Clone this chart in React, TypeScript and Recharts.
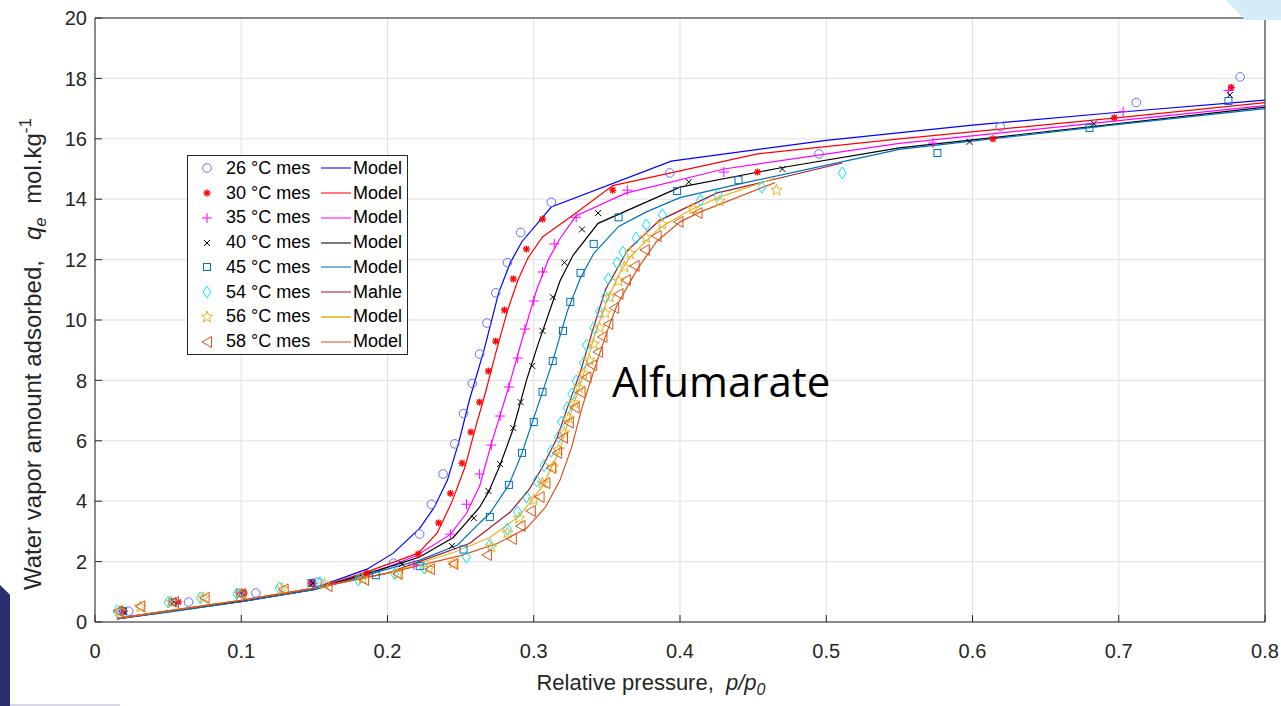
import React from 'react';
import { ComposedChart, Scatter, Line, XAxis, YAxis, CartesianGrid } from 'recharts';

const xTicks = [0, 0.1, 0.2, 0.3, 0.4, 0.5, 0.6, 0.7, 0.8];
const yTicks = [0, 2, 4, 6, 8, 10, 12, 14, 16, 18, 20];

// measured points [p/p0, qe]
const mes26 = [[0.023,0.36],[0.064,0.66],[0.110,0.96],[0.152,1.32],[0.204,1.95],[0.222,2.91],[0.230,3.9],[0.238,4.9],[0.246,5.9],[0.252,6.9],[0.258,7.9],[0.263,8.87],[0.268,9.9],[0.274,10.9],[0.282,11.9],[0.291,12.9],[0.312,13.9],[0.393,14.87],[0.495,15.5],[0.619,16.4],[0.712,17.2],[0.783,18.05]];
const mes30 = [[0.020,0.36],[0.057,0.66],[0.102,0.96],[0.148,1.29],[0.186,1.62],[0.221,2.25],[0.235,3.28],[0.243,4.26],[0.251,5.26],[0.257,6.29],[0.263,7.28],[0.269,8.31],[0.274,9.3],[0.280,10.33],[0.286,11.36],[0.295,12.35],[0.306,13.34],[0.354,14.3],[0.453,14.9],[0.614,16.0],[0.697,16.7],[0.777,17.7]];
const mes35 = [[0.018,0.36],[0.055,0.66],[0.100,0.95],[0.149,1.28],[0.218,1.9],[0.243,2.91],[0.254,3.9],[0.263,4.9],[0.271,5.86],[0.277,6.82],[0.283,7.78],[0.289,8.74],[0.294,9.7],[0.300,10.63],[0.306,11.59],[0.314,12.52],[0.329,13.4],[0.364,14.3],[0.430,14.9],[0.573,15.86],[0.703,16.9],[0.775,17.6]];
const mes40 = [[0.019,0.36],[0.054,0.66],[0.100,0.95],[0.149,1.29],[0.210,1.92],[0.244,2.52],[0.259,3.44],[0.269,4.34],[0.277,5.23],[0.286,6.42],[0.291,7.28],[0.299,8.48],[0.306,9.64],[0.313,10.76],[0.321,11.9],[0.333,13.0],[0.344,13.54],[0.406,14.57],[0.470,15.0],[0.598,15.9],[0.683,16.5],[0.776,17.45]];
const mes45 = [[0.019,0.36],[0.053,0.66],[0.099,0.95],[0.148,1.29],[0.192,1.55],[0.222,1.85],[0.252,2.4],[0.270,3.48],[0.283,4.54],[0.292,5.6],[0.300,6.62],[0.306,7.62],[0.313,8.64],[0.320,9.64],[0.325,10.6],[0.332,11.56],[0.341,12.52],[0.358,13.4],[0.398,14.27],[0.440,14.63],[0.576,15.53],[0.680,16.36],[0.775,17.25]];
const mes54 = [[0.015,0.36],[0.050,0.66],[0.072,0.8],[0.097,0.93],[0.126,1.13],[0.154,1.3],[0.180,1.39],[0.205,1.59],[0.225,1.79],[0.254,2.15],[0.270,2.55],[0.282,3.08],[0.289,3.64],[0.295,4.14],[0.302,4.67],[0.307,5.17],[0.312,5.66],[0.317,6.13],[0.319,6.62],[0.323,7.09],[0.326,7.55],[0.329,7.98],[0.334,8.58],[0.336,9.17],[0.341,9.74],[0.345,10.27],[0.349,10.76],[0.351,11.36],[0.357,11.89],[0.361,12.25],[0.370,12.71],[0.377,13.15],[0.388,13.48],[0.414,13.97],[0.426,14.14],[0.456,14.4],[0.511,14.87]];
const mes56 = [[0.017,0.36],[0.031,0.5],[0.052,0.66],[0.074,0.8],[0.099,0.93],[0.128,1.1],[0.157,1.25],[0.183,1.42],[0.207,1.6],[0.228,1.77],[0.245,1.95],[0.271,2.48],[0.282,2.95],[0.290,3.44],[0.300,4.04],[0.306,4.6],[0.313,5.13],[0.317,5.7],[0.321,6.26],[0.324,6.75],[0.328,7.25],[0.331,7.75],[0.334,8.21],[0.338,8.67],[0.341,9.2],[0.345,9.74],[0.349,10.23],[0.352,10.76],[0.358,11.29],[0.362,11.75],[0.366,12.2],[0.377,12.73],[0.388,13.17],[0.409,13.68],[0.427,13.94],[0.466,14.3]];
const mes58 = [[0.016,0.36],[0.031,0.52],[0.054,0.66],[0.075,0.8],[0.100,0.93],[0.129,1.08],[0.159,1.19],[0.184,1.39],[0.207,1.59],[0.229,1.75],[0.245,1.92],[0.268,2.22],[0.285,2.75],[0.291,3.18],[0.298,3.68],[0.304,4.14],[0.308,4.6],[0.312,5.1],[0.316,5.6],[0.320,6.1],[0.324,6.6],[0.328,7.1],[0.332,7.6],[0.336,8.1],[0.340,8.5],[0.344,8.94],[0.347,9.44],[0.351,9.87],[0.355,10.4],[0.358,10.86],[0.363,11.32],[0.369,11.79],[0.376,12.32],[0.384,12.78],[0.399,13.25],[0.412,13.54]];

// model curves
const model26 = [[0.015,0.12],[0.05,0.36],[0.1,0.7],[0.15,1.12],[0.186,1.75],[0.204,2.28],[0.222,3.1],[0.232,3.8],[0.241,4.7],[0.249,6.0],[0.256,7.35],[0.266,9.0],[0.276,10.9],[0.284,11.9],[0.292,12.6],[0.312,13.74],[0.394,15.26],[0.5,15.95],[0.6,16.45],[0.7,16.88],[0.8,17.28]];
const model30 = [[0.015,0.12],[0.05,0.36],[0.1,0.7],[0.15,1.1],[0.186,1.66],[0.221,2.28],[0.234,2.95],[0.244,3.97],[0.253,5.13],[0.26,6.4],[0.267,7.6],[0.274,8.9],[0.282,10.3],[0.289,11.3],[0.296,12.05],[0.306,12.75],[0.327,13.48],[0.354,14.45],[0.453,15.5],[0.55,16.0],[0.7,16.7],[0.8,17.2]];
const model35 = [[0.015,0.1],[0.05,0.34],[0.1,0.68],[0.15,1.08],[0.186,1.55],[0.22,2.2],[0.243,2.9],[0.254,3.6],[0.263,4.5],[0.271,5.9],[0.283,7.8],[0.294,9.7],[0.302,11.0],[0.31,12.0],[0.318,12.7],[0.329,13.45],[0.363,14.2],[0.43,15.0],[0.55,15.85],[0.7,16.6],[0.8,17.1]];
const model40 = [[0.015,0.1],[0.05,0.34],[0.1,0.68],[0.15,1.08],[0.206,1.9],[0.222,2.15],[0.245,2.8],[0.263,3.8],[0.269,4.3],[0.277,5.2],[0.286,6.4],[0.295,8.0],[0.303,9.2],[0.318,11.3],[0.327,12.15],[0.344,13.2],[0.4,14.4],[0.47,15.05],[0.55,15.7],[0.7,16.5],[0.8,17.05]];
const model45 = [[0.015,0.1],[0.05,0.33],[0.1,0.67],[0.15,1.07],[0.222,2.05],[0.248,2.55],[0.263,3.28],[0.27,3.6],[0.283,4.54],[0.292,5.6],[0.306,7.62],[0.313,8.64],[0.323,10.3],[0.332,11.4],[0.341,12.2],[0.358,13.1],[0.377,13.58],[0.4,14.05],[0.44,14.5],[0.55,15.65],[0.7,16.48],[0.8,17.0]];
const mahle54 = [[0.015,0.12],[0.05,0.37],[0.1,0.72],[0.15,1.12],[0.2,1.62],[0.256,2.6],[0.284,3.64],[0.297,4.4],[0.306,5.13],[0.316,6.1],[0.323,7.1],[0.332,8.3],[0.341,9.77],[0.349,11.0],[0.364,12.3],[0.386,13.3],[0.425,14.2],[0.511,15.2]];
const model56 = [[0.015,0.12],[0.05,0.37],[0.1,0.72],[0.15,1.12],[0.2,1.62],[0.245,2.3],[0.27,2.8],[0.29,3.5],[0.306,4.5],[0.317,5.6],[0.326,7.0],[0.334,8.2],[0.341,9.4],[0.349,10.5],[0.358,11.5],[0.366,12.1],[0.386,13.05],[0.407,13.64],[0.427,14.07],[0.465,14.7]];
const model58 = [[0.015,0.12],[0.05,0.37],[0.1,0.72],[0.15,1.12],[0.2,1.62],[0.25,2.2],[0.275,2.6],[0.295,3.1],[0.308,3.8],[0.318,4.7],[0.326,5.8],[0.333,7.1],[0.341,8.3],[0.35,9.6],[0.357,10.5],[0.371,11.7],[0.384,12.6],[0.4,13.25],[0.414,13.58],[0.465,14.55]];

const toPts = (arr: number[][]) => arr.map(([x, y]) => ({ x, y }));

const series = [
  { name: '26 °C mes', fit: 'Model', mes: mes26, model: model26, marker: 'circle', mc: '#6b6bff', lc: '#0000ff' },
  { name: '30 °C mes', fit: 'Model', mes: mes30, model: model30, marker: 'asterisk', mc: '#ff0000', lc: '#ff0000' },
  { name: '35 °C mes', fit: 'Model', mes: mes35, model: model35, marker: 'plus', mc: '#ff00ff', lc: '#ff00ff' },
  { name: '40 °C mes', fit: 'Model', mes: mes40, model: model40, marker: 'x', mc: '#000000', lc: '#000000' },
  { name: '45 °C mes', fit: 'Model', mes: mes45, model: model45, marker: 'square', mc: '#0072bd', lc: '#0072bd' },
  { name: '54 °C mes', fit: 'Mahle', mes: mes54, model: mahle54, marker: 'diamond', mc: '#00e8ff', lc: '#a2142f' },
  { name: '56 °C mes', fit: 'Model', mes: mes56, model: model56, marker: 'star', mc: '#edb120', lc: '#edb120' },
  { name: '58 °C mes', fit: 'Model', mes: mes58, model: model58, marker: 'triangle', mc: '#d95319', lc: '#d95319' },
];

function Marker({ kind, cx, cy, color }: { kind: string; cx: number; cy: number; color: string }) {
  const s = { stroke: color, strokeWidth: 1, fill: 'none' };
  switch (kind) {
    case 'circle':
      return <circle cx={cx} cy={cy} r={4.3} {...s} />;
    case 'asterisk':
      return (
        <g {...s} strokeWidth={1.4}>
          <line x1={cx - 3.5} y1={cy} x2={cx + 3.5} y2={cy} />
          <line x1={cx} y1={cy - 3.5} x2={cx} y2={cy + 3.5} />
          <line x1={cx - 2.6} y1={cy - 2.6} x2={cx + 2.6} y2={cy + 2.6} />
          <line x1={cx - 2.6} y1={cy + 2.6} x2={cx + 2.6} y2={cy - 2.6} />
        </g>
      );
    case 'plus':
      return (
        <g {...s}>
          <line x1={cx - 5} y1={cy} x2={cx + 5} y2={cy} />
          <line x1={cx} y1={cy - 5} x2={cx} y2={cy + 5} />
        </g>
      );
    case 'x':
      return (
        <g {...s}>
          <line x1={cx - 3} y1={cy - 3} x2={cx + 3} y2={cy + 3} />
          <line x1={cx - 3} y1={cy + 3} x2={cx + 3} y2={cy - 3} />
        </g>
      );
    case 'square':
      return <rect x={cx - 3.5} y={cy - 3.5} width={7} height={7} {...s} />;
    case 'diamond':
      return <polygon points={`${cx},${cy - 6} ${cx + 4},${cy} ${cx},${cy + 6} ${cx - 4},${cy}`} {...s} />;
    case 'star': {
      const pts: string[] = [];
      for (let i = 0; i < 10; i++) {
        const r = i % 2 === 0 ? 6 : 2.5;
        const a = -Math.PI / 2 + (i * Math.PI) / 5;
        pts.push(`${cx + r * Math.cos(a)},${cy + r * Math.sin(a)}`);
      }
      return <polygon points={pts.join(' ')} {...s} />;
    }
    case 'triangle':
      return <polygon points={`${cx - 5},${cy} ${cx + 4.5},${cy - 5.5} ${cx + 4.5},${cy + 5.5}`} {...s} />;
    default:
      return null;
  }
}

const XLabel = (props: any) => {
  const vb = props.viewBox;
  return (
    <text x={vb.x + vb.width / 2 - 29} y={vb.y + 68} textAnchor="middle" fontSize={22} fill="#262626" style={{ whiteSpace: 'pre' }}>
      <tspan>Relative pressure,  </tspan>
      <tspan fontStyle="italic">p/p</tspan>
      <tspan fontStyle="italic" fontSize={16} dy={5}>0</tspan>
    </text>
  );
};

const YLabel = () => (
  <text transform="rotate(-90)" x={-590} y={41} textAnchor="start" fontSize={24} fill="#262626" style={{ whiteSpace: 'pre' }}>
    <tspan>Water vapor amount adsorbed,   </tspan>
    <tspan fontStyle="italic">q</tspan>
    <tspan fontStyle="italic" fontSize={17} dy={5}>e</tspan>
    <tspan dy={-5}>  mol.kg</tspan>
    <tspan fontSize={17} dy={-10}>-1</tspan>
  </text>
);

function LegendBox() {
  return (
    <div
      style={{
        position: 'absolute',
        left: 187,
        top: 155,
        width: 221,
        height: 200,
        background: '#fff',
        border: '1px solid #262626',
        boxSizing: 'border-box',
        fontSize: 18,
        color: '#000',
      }}
    >
      {series.map((s) => (
        <div key={s.name} style={{ display: 'flex', alignItems: 'center', height: 24.75 }}>
          <svg width={38} height={24} style={{ flex: 'none' }}>
            <Marker kind={s.marker} cx={19} cy={12} color={s.mc} />
          </svg>
          <span style={{ width: 95, flex: 'none', whiteSpace: 'pre' }}>{s.name}</span>
          <svg width={32} height={24} style={{ flex: 'none' }}>
            <line x1={0} y1={12} x2={30} y2={12} stroke={s.lc} strokeWidth={s.marker === 'star' ? 2 : 1.3} opacity={0.8} />
          </svg>
          <span>{s.fit}</span>
        </div>
      ))}
    </div>
  );
}

export default function App() {
  return (
    <div style={{ position: 'relative', width: 1281, height: 706, background: '#fff', fontFamily: '"Liberation Sans", Arial, sans-serif', overflow: 'hidden' }}>
      <style>{'body{margin:0}'}</style>
      <ComposedChart width={1281} height={706} margin={{ top: 0, right: 0, bottom: 0, left: 0 }}>
        <CartesianGrid xAxisId="b" yAxisId="l" stroke="#dfdfdf" strokeWidth={1} />
        <XAxis
          xAxisId="b"
          type="number"
          dataKey="x"
          domain={[0, 0.8]}
          ticks={xTicks}
          allowDataOverflow
          height={84}
          tickSize={-7}
          tickMargin={29}
          stroke="#262626"
          tick={{ fill: '#262626', fontSize: 20 }}
          label={{ content: XLabel }}
        />
        <XAxis xAxisId="t" orientation="top" type="number" dataKey="x" domain={[0, 0.8]} ticks={xTicks} allowDataOverflow height={18} tickSize={-7} tick={false} stroke="#262626" />
        <YAxis
          yAxisId="l"
          type="number"
          domain={[0, 20]}
          ticks={yTicks}
          allowDataOverflow
          width={95}
          tickSize={-7}
          tickMargin={15}
          stroke="#262626"
          tick={{ fill: '#262626', fontSize: 20 }}
          label={{ content: YLabel }}
        />
        <YAxis yAxisId="r" orientation="right" type="number" domain={[0, 20]} ticks={yTicks} allowDataOverflow width={16} tickSize={-7} tick={false} stroke="#262626" />
        {series.map((s) => [
          <Scatter
            key={s.name + '-m'}
            xAxisId="b"
            yAxisId="l"
            data={toPts(s.mes)}
            dataKey="y"
            isAnimationActive={false}
            shape={(p: any) => <Marker kind={s.marker} cx={p.cx} cy={p.cy} color={s.mc} />}
          />,
          <Line
            key={s.name + '-l'}
            xAxisId="b"
            yAxisId="l"
            data={toPts(s.model)}
            dataKey="y"
            type="linear"
            stroke={s.lc}
            strokeWidth={1.2}
            dot={false}
            activeDot={false}
            isAnimationActive={false}
          />,
        ])}
      </ComposedChart>
      <LegendBox />
      <div style={{ position: 'absolute', left: 612, top: 356, fontFamily: '"Open Sans", sans-serif', fontSize: 42, color: '#000', lineHeight: '50px' }}>
        Alfumarate
      </div>
      <div style={{ position: 'absolute', left: 0, top: 585, width: 10, height: 121, background: '#2b2d6e', clipPath: 'polygon(0 0, 100% 8%, 100% 100%, 0 100%)' }} />
      <div style={{ position: 'absolute', left: 10, top: 704, width: 110, height: 2, background: '#d8d8e4' }} />
      <div style={{ position: 'absolute', left: 1226, top: 0, width: 55, height: 20, background: '#d3ecf8', clipPath: 'polygon(0 0, 100% 0, 100% 100%, 35% 100%)' }} />
    </div>
  );
}
